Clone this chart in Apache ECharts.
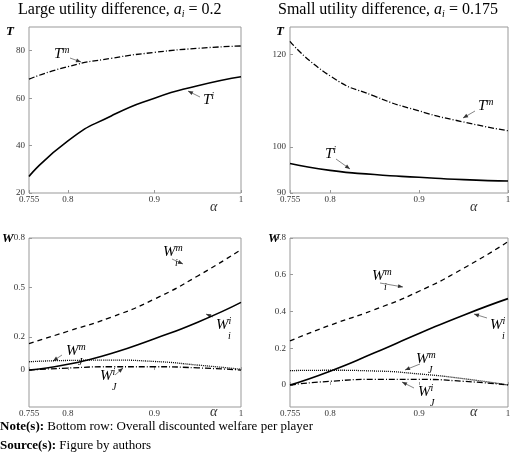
<!DOCTYPE html><html><head><meta charset="utf-8"><script src="https://cdn.jsdelivr.net/npm/echarts@6/dist/echarts.min.js"></script></head><body style="margin:0"><div id="c" style="width:520px;height:456px"></div><script>
const alpha=[0.755,0.8,0.85,0.9,0.95,1];
const xTicks=[0.755,0.8,0.9,1];
const tlTi=[27,42,52.5,60,65.2,69], tlTm=[68,73.3,76.8,79.3,81,82];
const trTm=[122.9,115.4,111,107.8,105.4,103.5], trTi=[96.4,94.9,94,93.4,92.9,92.6];
const blWim=[0.16,0.235,0.32,0.43,0.57,0.73], blWii=[0,0.035,0.1,0.19,0.29,0.41], blWjm=[0.05,0.058,0.06,0.052,0.03,0.005], blWji=[0,0.012,0.02,0.02,0.013,0];
const brWim=[0.24,0.325,0.41,0.51,0.635,0.78], brWii=[0,0.075,0.175,0.28,0.38,0.47], brWjm=[0.078,0.08,0.076,0.06,0.034,0], brWji=[0,0.02,0.03,0.03,0.02,0];
const yTicks=[[20,40,60,80],[90,100,120],[0,0.2,0.5,0.8],[0,0.2,0.4,0.6,0.8]];
const F='Liberation Serif';
const grids=[{left:29,top:27,width:212,height:166},{left:290,top:27,width:218,height:166},{left:29,top:238,width:212,height:169},{left:290,top:238,width:218,height:169}].map(g=>Object.assign(g,{show:true,borderColor:'#999',borderWidth:1,backgroundColor:'#fff'}));
const yr=[[20,90],[90,126],[-0.224,0.8],[-0.12,0.8]];
const xAxis=grids.map((g,i)=>({type:'value',gridIndex:i,min:0.755,max:1,axisLine:{show:false},splitLine:{show:false},axisTick:{inside:true,length:3,customValues:xTicks,lineStyle:{color:'#999'}},axisLabel:{customValues:xTicks,fontFamily:F,fontSize:9,color:'#333',margin:2}}));
const yAxis=grids.map((g,i)=>({type:'value',gridIndex:i,min:yr[i][0],max:yr[i][1],axisLine:{show:false},splitLine:{show:false},axisTick:{inside:true,length:3,customValues:yTicks[i],lineStyle:{color:'#999'}},axisLabel:{customValues:yTicks[i],fontFamily:F,fontSize:9,color:'#333',margin:4}}));
function s(i,d,type,w){return {type:'line',xAxisIndex:i,yAxisIndex:i,data:alpha.map((a,k)=>[a,d[k]]),smooth:0.6,showSymbol:false,lineStyle:{color:'#000',width:w||1.3,type:type}};}
const series=[s(0,tlTm,[6,2,1,2]),s(0,tlTi,'solid',1.6),s(1,trTm,[6,2,1,2]),s(1,trTi,'solid',1.6),
s(2,blWim,[5,4]),s(2,blWii,'solid',1.6),s(2,blWjm,[1,1]),s(2,blWji,[6,2,1,2]),
s(3,brWim,[5,4]),s(3,brWii,'solid',1.6),s(3,brWjm,[1,1]),s(3,brWji,[6,2,1,2])];
const rich={b:{fontFamily:F,fontStyle:'italic',fontSize:15},p:{fontFamily:F,fontStyle:'italic',fontSize:10,verticalAlign:'top',padding:[0,0,8,0]}};
const g=[];
function lab(x,y,t){g.push({type:'text',left:x,top:y,style:{text:t,rich:rich}});}
function arr(x1,y1,x2,y2){const dx=x2-x1,dy=y2-y1,L=Math.hypot(dx,dy),ux=dx/L,uy=dy/L;g.push({type:'line',shape:{x1,y1,x2,y2},style:{stroke:'#666',lineWidth:0.8}});g.push({type:'polygon',shape:{points:[[x2,y2],[x2-5*ux-2*uy,y2-5*uy+2*ux],[x2-5*ux+2*uy,y2-5*uy-2*ux]]},style:{fill:'#333'}});}
lab(54,45,'{b|T}{p|m}');arr(70,58,81,62);
lab(203,91,'{b|T}{p|i}');arr(200,97,188,91);
lab(478,97,'{b|T}{p|m}');arr(475,111,463,118);
lab(325,145,'{b|T}{p|i}');arr(336,159,350,169);
function W(x,y,sup,sub){lab(x,y,'{b|W}{p|'+sup+'}');g.push({type:'text',left:x+12,top:y+15,style:{text:sub,font:'italic 10px '+F}});}
W(163,243,'m','i');arr(172,259,183,264);
W(216,316,'i','i');arr(213,317,206,314);
W(66,342,'m','J');arr(62,355,53,361);
W(100,367,'i','J');arr(115,375,123,368);
W(372,267,'m','i');arr(380,283,403,287);
W(490,316,'i','i');arr(487,318,474,314);
W(416,350,'m','J');arr(420,364,405,370);
W(418,383,'i','J');arr(414,388,402,382);
[[6,25,'T'],[276,25,'T'],[2,232,'W'],[268,232,'W']].forEach(a=>g.push({type:'text',left:a[0],top:a[1],style:{text:a[2],font:'italic bold 13px '+F}}));
[[210,200],[470,200],[210,405],[470,405]].forEach(a=>g.push({type:'text',left:a[0],top:a[1],style:{text:'α',font:'italic 14px '+F,fill:'#333'}}));
const ttl={i:{fontFamily:F,fontStyle:'italic',fontSize:16},s:{fontFamily:F,fontStyle:'italic',fontSize:10,padding:[8,0,0,0]}};
g.push({type:'text',left:18,top:2,style:{text:'Large utility difference, {i|a}{s|i} = 0.2',font:'16px '+F,rich:ttl}});
g.push({type:'text',left:278,top:2,style:{text:'Small utility difference, {i|a}{s|i} = 0.175',font:'16px '+F,rich:ttl}});
g.push({type:'text',left:0,top:420,style:{text:'{b|Note(s):} Bottom row: Overall discounted welfare per player',font:'13px '+F,rich:{b:{fontFamily:F,fontWeight:'bold',fontSize:13}}}});
g.push({type:'text',left:0,top:439,style:{text:'{b|Source(s):} Figure by authors',font:'13px '+F,rich:{b:{fontFamily:F,fontWeight:'bold',fontSize:13}}}});
const ch=echarts.init(document.getElementById('c'));
ch.setOption({animation:false,backgroundColor:'#fff',grid:grids,xAxis,yAxis,series,graphic:g});
</script></body></html>
